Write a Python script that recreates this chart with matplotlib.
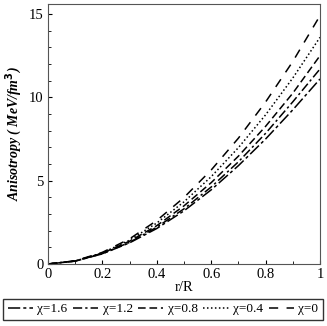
import matplotlib
matplotlib.use("Agg")
import matplotlib.pyplot as plt
from matplotlib.ticker import MultipleLocator

r = [0.0, 0.1, 0.2, 0.3, 0.4, 0.5, 0.6, 0.7, 0.8, 0.9, 1.0]
chi_labels = ["χ=1.6", "χ=1.2", "χ=0.8", "χ=0.4", "χ=0"]
a_16 = [0.0, 0.17, 0.61, 1.27, 2.13, 3.19, 4.45, 5.9, 7.5, 9.25, 11.1]
a_12 = [0.0, 0.18, 0.62, 1.30, 2.21, 3.31, 4.62, 6.13, 7.84, 9.73, 11.7]
a_08 = [0.0, 0.18, 0.65, 1.37, 2.30, 3.49, 4.88, 6.47, 8.26, 10.25, 12.5]
a_04 = [0.0, 0.18, 0.67, 1.43, 2.46, 3.73, 5.24, 6.98, 8.95, 11.16, 13.6]
a_00 = [0.0, 0.19, 0.70, 1.51, 2.61, 3.99, 5.64, 7.55, 9.72, 12.15, 14.9]
series = [a_16, a_12, a_08, a_04, a_00]
styles = [(0, (8, 2, 2, 2)), (0, (6, 2, 1.5, 2)), (0, (5, 2.5)), (0, (1, 1.6)), (0, (6, 5.5))]

plt.rcParams['font.family'] = ['Liberation Serif', 'DejaVu Serif']
fig = plt.figure(figsize=(3.27, 3.26), dpi=100)
ax = fig.add_axes([48/327, 1-264/326, 272/327, 260/326])
for y, ls, lab in zip(series, styles, chi_labels):
    ax.plot(r, y, color='black', lw=1.1, linestyle=ls, label=lab)
ax.set_xlim(0, 1)
ax.set_ylim(0, 15.6)
ax.set_xticks([0, 0.2, 0.4, 0.6, 0.8, 1])
ax.set_xticklabels(["0", "0.2", "0.4", "0.6", "0.8", "1"])
ax.set_yticks([0, 5, 10, 15])
ax.xaxis.set_minor_locator(MultipleLocator(0.1))
ax.yaxis.set_minor_locator(MultipleLocator(1))
ax.tick_params(direction='in', labelsize=10.5, length=3, pad=3)
ax.tick_params(which='minor', direction='in', length=2)
for s in ax.spines.values():
    s.set_color('#555555')
ax.set_xlabel("r/R", fontsize=10.5, labelpad=0)
ax.set_ylabel("Anisotropy ( MeV/fm$^{\\mathbf{3}}$)", fontsize=10, fontweight='bold',
              fontstyle='italic', labelpad=4)
leg = fig.legend(loc='lower left', bbox_to_anchor=(3/327, 6/326, 320/327, 24/326), mode='expand',
                 ncol=5, frameon=True, fontsize=9.5, handlelength=1.9, handletextpad=0.35,
                 columnspacing=0.6, fancybox=False, edgecolor='black', borderpad=0.35,
                 borderaxespad=0)
leg.get_frame().set_linewidth(1.0)
fig.savefig("out.png", dpi=100)
